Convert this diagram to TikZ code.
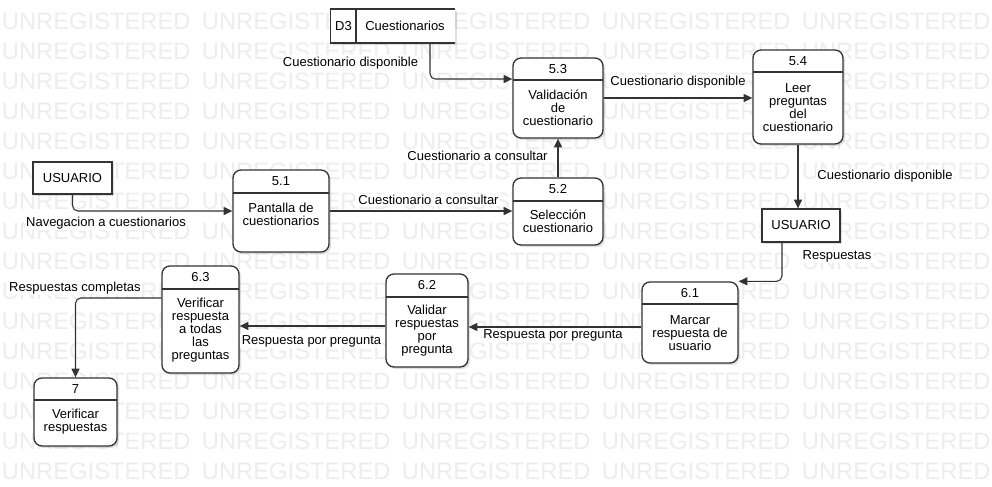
\documentclass[tikz,border=0pt]{standalone}
\usepackage{fontspec}
\setmainfont{Liberation Sans}
\usetikzlibrary{arrows.meta,fit,shadows}
\definecolor{linec}{RGB}{51,51,51}
\definecolor{wmc}{RGB}{237,237,237}
\tikzset{
  txt/.style={font=\fontsize{9.75}{9.75}\selectfont, align=center, inner sep=0pt, text=black},
  lbl/.style={font=\fontsize{9.75}{9.75}\selectfont, fill=white, inner sep=1pt, text=black},
  wm/.style={font=\fontsize{17.8}{18}\selectfont, text=wmc, inner sep=0pt, anchor=west},
  boxshadow/.style={drop shadow={shadow xshift=1.5pt, shadow yshift=-1.5pt, fill=black, opacity=0.12}},
  procbox/.style={draw=linec, line width=1pt, fill=white, rounded corners=6pt, inner sep=0pt, boxshadow},
  entbox/.style={draw=linec, line width=1pt, fill=white, inner sep=0pt, boxshadow},
  storebg/.style={fill=white, inner sep=0pt, boxshadow},
  hdr/.style={draw=linec, line width=1pt},
  flow/.style={draw=linec, line width=0.8pt, rounded corners=4pt, -{Triangle[length=6.5pt,width=6pt]}},
}
% name, x1, y1, x2, y2, header y, number, text, text y
\newcommand{\procnode}[9]{%
  \node[procbox, fit={(#2,#3) (#4,#5)}] (#1) {};
  \draw[hdr] (#2,#6) -- (#4,#6);
  \node[txt] (#1n) at ({(#2+#4)/2},{(#3+#6)/2}) {#7};
  \node[txt] (#1t) at ({(#2+#4)/2},#9) {#8};
}
\begin{document}
\begin{tikzpicture}[x=0.75pt,y=-0.75pt]
\useasboundingbox (0,0) rectangle (992,486);
\fill[white] (0,0) rectangle (992,486);
% watermark
\foreach \r in {0,...,15}{
  \foreach \c in {0,...,4}{
    \node[wm] (wm-\r-\c) at ({1.7+200*\c},{21.5+30*\r}) {UNREGISTERED};
  }
}
% data store
\node[storebg, fit={(331,9.3) (455,42.7)}] (d3) {};
\draw[hdr] (d3.north east) -- (d3.north west) -- (d3.south west) -- (d3.south east);
\draw[hdr] (356,9.3) -- (356,42.7);
\node[txt] (d3id) at (343.5,26) {D3};
\node[txt] (d3name) at (405,26) {Cuestionarios};
% external entities
\node[entbox, fit={(33,162) (112,194)}] (u1) {};
\node[txt] (u1t) at (u1.center) {USUARIO};
\node[entbox, fit={(762,209) (840,242)}] (u2) {};
\node[txt] (u2t) at (u2.center) {USUARIO};
% processes
\procnode{p51}{233}{170}{329}{252}{193}{5.1}{Pantalla de\\cuestionarios}{214.5}
\procnode{p52}{513}{178}{603}{245}{201}{5.2}{Selección\\cuestionario}{221.5}
\procnode{p53}{513}{58}{603}{138}{80}{5.3}{Validación\\de\\cuestionario}{108}
\procnode{p54}{753}{50}{843}{144}{72}{5.4}{Leer\\preguntas\\del\\cuestionario}{107.5}
\procnode{p61}{642}{282}{738}{363}{304}{6.1}{Marcar\\respuesta de\\usuario}{333}
\procnode{p62}{386}{274}{468}{367}{297}{6.2}{Validar\\respuestas\\por\\pregunta}{331}
\procnode{p63}{162}{266}{239}{373}{289}{6.3}{Verificar\\respuesta\\a todas\\las\\preguntas}{330}
\procnode{p7}{34}{378}{117}{446}{400}{7}{Verificar\\respuestas}{421.5}
% flows
\draw[flow] (430,0 |- d3.south) |- (p53.west |- 0,79);
\draw[flow] (p53.east) -- (p53.east -| p54.west);
\draw[flow] (p54.south) -- (p54.south |- u2.north);
\draw[flow] (782,0 |- u2.south) |- (p61.north east);
\draw[flow] (p61.west |- 0,327) -- (p62.east |- 0,327);
\draw[flow] (p62.west |- 0,326) -- (p63.east |- 0,326);
\draw[flow] (p63.west |- 0,298) -| (p7.north);
\draw[flow] (u1.south) |- (p51.west);
\draw[flow] (p51.east) -- (p51.east -| p52.west);
\draw[flow] (p52.north) -- (p53.south);
% labels
\node[lbl] (l1) at (350.5,62.7) {Cuestionario disponible};
\node[lbl] (l2) at (678,82) {Cuestionario disponible};
\node[lbl] (l3) at (885,176) {Cuestionario disponible};
\node[lbl] (l4) at (477.5,156) {Cuestionario a consultar};
\node[lbl] (l5) at (428.5,200) {Cuestionario a consultar};
\node[lbl] (l6) at (106,223) {Navegacion a cuestionarios};
\node[lbl] (l7) at (837,256) {Respuestas};
\node[lbl] (l8) at (553,335) {Respuesta por pregunta};
\node[lbl] (l9) at (311.5,341) {Respuesta por pregunta};
\node[lbl] (l10) at (75,288) {Respuestas completas};
\end{tikzpicture}
\end{document}
